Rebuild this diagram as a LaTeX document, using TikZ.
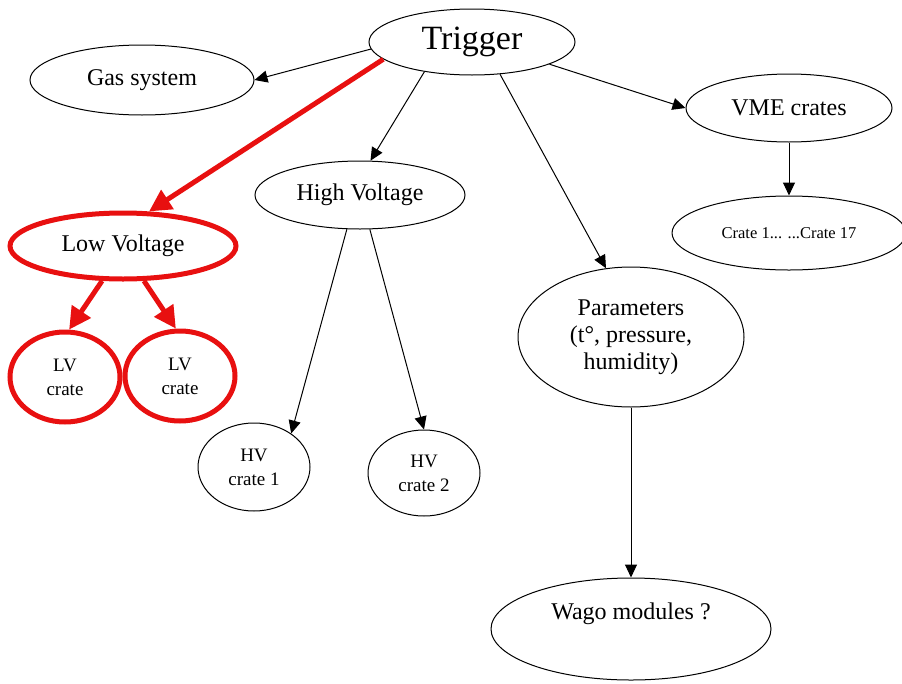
\documentclass[tikz,border=0pt]{standalone}
\usepackage{fontspec}
\setmainfont{Liberation Serif}
\usepackage{xcolor}
\usepackage{tikz}
\usetikzlibrary{shapes.geometric,arrows.meta}
\definecolor{lvred}{RGB}{232,16,16}

\begin{document}
\begin{tikzpicture}[
    x=1pt, y=-1pt,
    oval/.style={
        ellipse,
        draw,
        line width=1pt,
        inner sep=0pt,
        align=center,
        font=\fontsize{24}{27}\selectfont
    },
    redoval/.style={oval, draw=lvred, line width=5pt},
    small/.style={font=\fontsize{19}{24}\selectfont},
    arrow/.style={-{Triangle[length=13pt,width=12pt]}, line width=1pt},
    redarrow/.style={-{Triangle[length=22pt,width=22pt]}, line width=5pt, color=lvred}
]
\useasboundingbox (0,0) rectangle (902,683);

\node[oval, minimum width=206pt, minimum height=66pt, font=\fontsize{34}{40}\selectfont] (trigger) at (472,42) {Trigger};
\node[oval, minimum width=224pt, minimum height=70pt] (gas) at (142,80) {Gas system};
\node[oval, minimum width=206pt, minimum height=68pt] (vme) at (789,108) {VME crates};
\node[oval, minimum width=234pt, minimum height=74pt, font=\fontsize{16.5}{19}\selectfont] (crates) at (789,233) {Crate 1... ...Crate 17};
\node[oval, minimum width=210pt, minimum height=68pt] (hv) at (360,195) {High Voltage};
\node[redoval, minimum width=226pt, minimum height=66pt] (lv) at (123,246) {Low Voltage};
\node[redoval, small, minimum width=110pt, minimum height=90pt] (lvone) at (65,377) {LV\\crate};
\node[redoval, small, minimum width=110pt, minimum height=90pt] (lvtwo) at (180,376) {LV\\crate};
\node[oval, small, minimum width=112pt, minimum height=88pt] (hvone) at (254,467) {HV\\crate 1};
\node[oval, small, minimum width=112pt, minimum height=86pt] (hvtwo) at (424,473) {HV\\crate 2};
\node[oval, minimum width=226pt, minimum height=140pt] (params) at (631,337) {Parameters\\(t°, pressure,\\humidity)};
\node[oval, minimum width=280pt, minimum height=102pt] (wago) at (631,629) {Wago modules ?\\\strut};

\draw[arrow] (trigger.184) -- (gas.east);
\draw[redarrow] (trigger.191) -- (lv.53);
\draw[arrow] (trigger.212) -- (hv.73);
\draw[arrow] (trigger.311) -- (params.110);
\draw[arrow] (trigger.344) -- (vme.west);
\draw[arrow] (vme) -- (crates);

\draw[arrow] (hv.249) -- (hvone.42);
\draw[arrow] (hv.286) -- (hvtwo.north);
\draw[redarrow] (lv.239) -- (lvone.85);
\draw[redarrow] (lv.301) -- (lvtwo.95);
\draw[arrow] (params) -- (wago);

\end{tikzpicture}
\end{document}
